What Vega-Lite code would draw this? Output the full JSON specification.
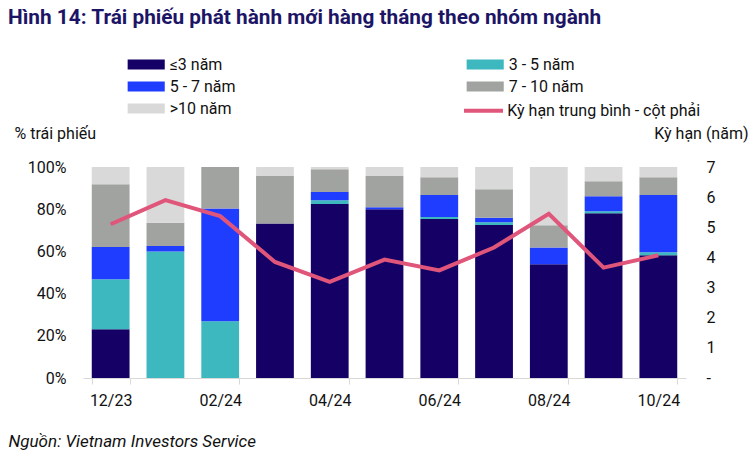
{
  "$schema": "https://vega.github.io/schema/vega-lite/v6.json",
  "width": 603,
  "height": 211,
  "autosize": {"type": "none"},
  "padding": {"left": 83, "top": 167, "right": 70, "bottom": 85},
  "config": {
    "font": "Roboto",
    "view": {"stroke": null},
    "legend": {"padding": 0}
  },
  "title": {
    "text": "Hình 14: Trái phiếu phát hành mới hàng tháng theo nhóm ngành",
    "font": "Roboto",
    "fontSize": 20.8,
    "fontWeight": "bold",
    "color": "#1c1566",
    "anchor": "start",
    "frame": "group",
    "dx": -75,
    "offset": 0,
    "dy": -28
  },
  "datasets": {
    "bars": [
      {"month": "12/23", "group": "≤3 năm", "rank": 1, "value": 23.1},
      {"month": "12/23", "group": "3 - 5 năm", "rank": 2, "value": 23.7},
      {"month": "12/23", "group": "5 - 7 năm", "rank": 3, "value": 15.3},
      {"month": "12/23", "group": "7 - 10 năm", "rank": 4, "value": 29.7},
      {"month": "12/23", "group": ">10 năm", "rank": 5, "value": 8.2},
      {"month": "01/24", "group": "≤3 năm", "rank": 1, "value": 0},
      {"month": "01/24", "group": "3 - 5 năm", "rank": 2, "value": 59.9},
      {"month": "01/24", "group": "5 - 7 năm", "rank": 3, "value": 2.7},
      {"month": "01/24", "group": "7 - 10 năm", "rank": 4, "value": 11.0},
      {"month": "01/24", "group": ">10 năm", "rank": 5, "value": 26.4},
      {"month": "02/24", "group": "≤3 năm", "rank": 1, "value": 0},
      {"month": "02/24", "group": "3 - 5 năm", "rank": 2, "value": 26.9},
      {"month": "02/24", "group": "5 - 7 năm", "rank": 3, "value": 53.4},
      {"month": "02/24", "group": "7 - 10 năm", "rank": 4, "value": 19.7},
      {"month": "02/24", "group": ">10 năm", "rank": 5, "value": 0},
      {"month": "03/24", "group": "≤3 năm", "rank": 1, "value": 73.2},
      {"month": "03/24", "group": "3 - 5 năm", "rank": 2, "value": 0},
      {"month": "03/24", "group": "5 - 7 năm", "rank": 3, "value": 0},
      {"month": "03/24", "group": "7 - 10 năm", "rank": 4, "value": 22.5},
      {"month": "03/24", "group": ">10 năm", "rank": 5, "value": 4.3},
      {"month": "04/24", "group": "≤3 năm", "rank": 1, "value": 82.5},
      {"month": "04/24", "group": "3 - 5 năm", "rank": 2, "value": 1.7},
      {"month": "04/24", "group": "5 - 7 năm", "rank": 3, "value": 4.0},
      {"month": "04/24", "group": "7 - 10 năm", "rank": 4, "value": 10.7},
      {"month": "04/24", "group": ">10 năm", "rank": 5, "value": 1.1},
      {"month": "05/24", "group": "≤3 năm", "rank": 1, "value": 80.0},
      {"month": "05/24", "group": "3 - 5 năm", "rank": 2, "value": 0},
      {"month": "05/24", "group": "5 - 7 năm", "rank": 3, "value": 0.9},
      {"month": "05/24", "group": "7 - 10 năm", "rank": 4, "value": 14.8},
      {"month": "05/24", "group": ">10 năm", "rank": 5, "value": 4.3},
      {"month": "06/24", "group": "≤3 năm", "rank": 1, "value": 75.4},
      {"month": "06/24", "group": "3 - 5 năm", "rank": 2, "value": 0.9},
      {"month": "06/24", "group": "5 - 7 năm", "rank": 3, "value": 10.4},
      {"month": "06/24", "group": "7 - 10 năm", "rank": 4, "value": 8.4},
      {"month": "06/24", "group": ">10 năm", "rank": 5, "value": 4.9},
      {"month": "07/24", "group": "≤3 năm", "rank": 1, "value": 72.5},
      {"month": "07/24", "group": "3 - 5 năm", "rank": 2, "value": 1.3},
      {"month": "07/24", "group": "5 - 7 năm", "rank": 3, "value": 2.2},
      {"month": "07/24", "group": "7 - 10 năm", "rank": 4, "value": 13.4},
      {"month": "07/24", "group": ">10 năm", "rank": 5, "value": 10.6},
      {"month": "08/24", "group": "≤3 năm", "rank": 1, "value": 53.9},
      {"month": "08/24", "group": "3 - 5 năm", "rank": 2, "value": 0},
      {"month": "08/24", "group": "5 - 7 năm", "rank": 3, "value": 8.0},
      {"month": "08/24", "group": "7 - 10 năm", "rank": 4, "value": 10.5},
      {"month": "08/24", "group": ">10 năm", "rank": 5, "value": 27.6},
      {"month": "09/24", "group": "≤3 năm", "rank": 1, "value": 78.1},
      {"month": "09/24", "group": "3 - 5 năm", "rank": 2, "value": 0.9},
      {"month": "09/24", "group": "5 - 7 năm", "rank": 3, "value": 7.1},
      {"month": "09/24", "group": "7 - 10 năm", "rank": 4, "value": 7.1},
      {"month": "09/24", "group": ">10 năm", "rank": 5, "value": 6.8},
      {"month": "10/24", "group": "≤3 năm", "rank": 1, "value": 58.2},
      {"month": "10/24", "group": "3 - 5 năm", "rank": 2, "value": 1.4},
      {"month": "10/24", "group": "5 - 7 năm", "rank": 3, "value": 27.1},
      {"month": "10/24", "group": "7 - 10 năm", "rank": 4, "value": 8.4},
      {"month": "10/24", "group": ">10 năm", "rank": 5, "value": 4.9}
    ],
    "line": [
      {"month": "12/23", "years": 5.10},
      {"month": "01/24", "years": 5.90},
      {"month": "02/24", "years": 5.37},
      {"month": "03/24", "years": 3.85},
      {"month": "04/24", "years": 3.19},
      {"month": "05/24", "years": 3.93},
      {"month": "06/24", "years": 3.57},
      {"month": "07/24", "years": 4.33},
      {"month": "08/24", "years": 5.45},
      {"month": "09/24", "years": 3.66},
      {"month": "10/24", "years": 4.07}
    ]
  },
  "encoding": {
    "x": {
      "field": "month",
      "type": "ordinal",
      "sort": null,
      "scale": {"paddingInner": 0.31, "paddingOuter": 0.16},
      "axis": {
        "values": ["12/23", "02/24", "04/24", "06/24", "08/24", "10/24"],
        "labelAngle": 0,
        "labelFontSize": 16,
        "labelColor": "#111111",
        "labelPadding": 8,
        "tickBand": "extent",
        "tickSize": 6,
        "tickColor": "#d9d9d9",
        "domainColor": "#d9d9d9",
        "grid": false,
        "title": "Nguồn: Vietnam Investors Service",
        "titleFont": "Roboto",
        "titleFontStyle": "italic",
        "titleFontWeight": "normal",
        "titleFontSize": 17,
        "titleColor": "#111111",
        "titleAnchor": "start",
        "titleAlign": "left",
        "titleBaseline": "middle",
        "titleX": -75,
        "titleY": 63
      }
    }
  },
  "layer": [
    {
      "data": {"name": "bars"},
      "mark": {"type": "bar"},
      "encoding": {
        "y": {
          "field": "value",
          "type": "quantitative",
          "stack": "zero",
          "scale": {"domain": [0, 100], "nice": false},
          "axis": {
            "values": [0, 20, 40, 60, 80, 100],
            "labelExpr": "datum.value + '%'",
            "labelFontSize": 16,
            "labelColor": "#111111",
            "labelPadding": 17,
            "ticks": false,
            "domain": false,
            "grid": false,
            "title": "% trái phiếu",
            "titleFont": "Roboto",
            "titleFontSize": 16,
            "titleFontWeight": "normal",
            "titleColor": "#111111",
            "titleAngle": 0,
            "titleAlign": "left",
            "titleBaseline": "middle",
            "titleX": -69,
            "titleY": -34
          }
        },
        "order": {"field": "rank", "type": "quantitative", "sort": "ascending"},
        "color": {
          "field": "group",
          "type": "nominal",
          "scale": {
            "domain": ["≤3 năm", "5 - 7 năm", ">10 năm", "3 - 5 năm", "7 - 10 năm"],
            "range": ["#150066", "#1f3dff", "#d9d9d9", "#3db8bf", "#a0a39f"]
          },
          "legend": {
            "title": null,
            "orient": "none",
            "legendX": 55.2,
            "legendY": -110.5,
            "columns": 2,
            "columnPadding": 230,
            "rowPadding": 6,
            "symbolType": "M-2.65,-0.72H2.65V0.72H-2.65Z",
            "symbolSize": 196,
            "symbolStrokeWidth": 0,
            "labelOffset": 15.5,
            "labelFont": "Roboto",
            "labelFontSize": 16,
            "labelColor": "#111111"
          }
        }
      }
    },
    {
      "data": {"name": "line"},
      "mark": {"type": "line", "strokeWidth": 4},
      "encoding": {
        "y": {
          "field": "years",
          "type": "quantitative",
          "scale": {"domain": [0, 7], "nice": false},
          "axis": {
            "orient": "right",
            "values": [0, 1, 2, 3, 4, 5, 6, 7],
            "labelExpr": "datum.value == 0 ? '-' : datum.label",
            "labelFontSize": 16,
            "labelColor": "#111111",
            "labelPadding": 20,
            "ticks": false,
            "domain": false,
            "grid": false,
            "title": "Kỳ hạn (năm)",
            "titleFont": "Roboto",
            "titleFontSize": 16,
            "titleFontWeight": "normal",
            "titleColor": "#111111",
            "titleAngle": 0,
            "titleAlign": "right",
            "titleBaseline": "middle",
            "titleX": 62,
            "titleY": -34
          }
        },
        "stroke": {
          "datum": "Kỳ hạn trung bình - cột phải",
          "type": "nominal",
          "scale": {"range": ["#e0567a"]},
          "legend": {
            "title": null,
            "orient": "none",
            "legendX": 379,
            "legendY": -77.8,
            "symbolType": "stroke",
            "symbolSize": 1521,
            "symbolStrokeWidth": 4,
            "labelOffset": 2.3,
            "labelLimit": 300,
            "labelFont": "Roboto",
            "labelFontSize": 16,
            "labelColor": "#111111"
          }
        }
      }
    }
  ],
  "resolve": {"scale": {"y": "independent"}}
}
